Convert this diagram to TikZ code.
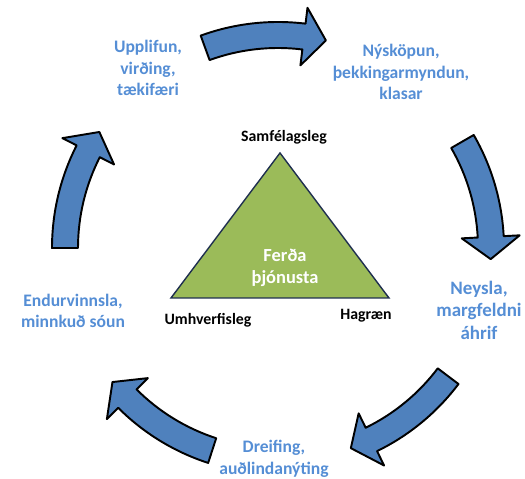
\documentclass[tikz,border=0pt]{standalone}
\usepackage{fontspec}
\setmainfont{Carlito}
\usepackage{xcolor}
\usepackage{tikz}
\definecolor{flowblue}{HTML}{4F81BD}
\definecolor{labelblue}{HTML}{558ED5}
\definecolor{pillargreen}{HTML}{9BBB59}
\definecolor{pillarline}{HTML}{1F2F4F}

\begin{document}
\begin{tikzpicture}[%
  x=0.02cm, y=0.02cm,
  flow/.style={draw=black, line width=1.1pt, fill=flowblue, line join=round},
  stage/.style={align=center, text=labelblue, font=\fontsize{10}{12.2}\selectfont\bfseries},
  pillar/.style={font=\fontsize{9}{10.5}\selectfont\bfseries},
  core/.style={align=center, text=white, font=\fontsize{10.5}{12.5}\selectfont\bfseries}]
  \useasboundingbox (-278,-231) rectangle (247,248);
  \foreach \t in {110,30,-37,-108,-180}
    \draw[flow] ({\t}:226) arc[start angle=\t, end angle=\t-27, radius=226]
      -- ({\t-27}:242) -- ({\t-33}:213) -- ({\t-27}:184) -- ({\t-27}:200)
      arc[start angle=\t-27, end angle=\t, radius=200] -- cycle;
  \coordinate (left) at (-107,-50);
  \coordinate (right) at (111,-50);
  \coordinate (apex) at (2,95);
  \draw[fill=pillargreen, draw=pillarline, line width=0.8pt] (left) -- (right) -- (apex) -- cycle;
  \node[core] (tourism) at (7,-20) {Ferða\\þjónusta};
  \node[pillar] (social) at (6,111) {Samfélagsleg};
  \node[pillar] (environ) at (-70,-72) {Umhverfisleg};
  \node[pillar] (economic) at (88,-68) {Hagræn};
  \node[stage] (experience) at (-130,180) {Upplifun,\\virðing,\\tækifæri};
  \node[stage] (innovation) at (123,176) {Nýsköpun,\\þekkingarmyndun,\\klasar};
  \node[stage, font=\fontsize{10.8}{12.8}\selectfont\bfseries] (consumption) at (201,-62) {Neysla,\\margfeldni\\áhrif};
  \node[stage] (distribution) at (-4,-211) {Dreifing,\\auðlindanýting};
  \node[stage] (recycling) at (-205,-63) {Endurvinnsla,\\minnkuð sóun};
\end{tikzpicture}
\end{document}
